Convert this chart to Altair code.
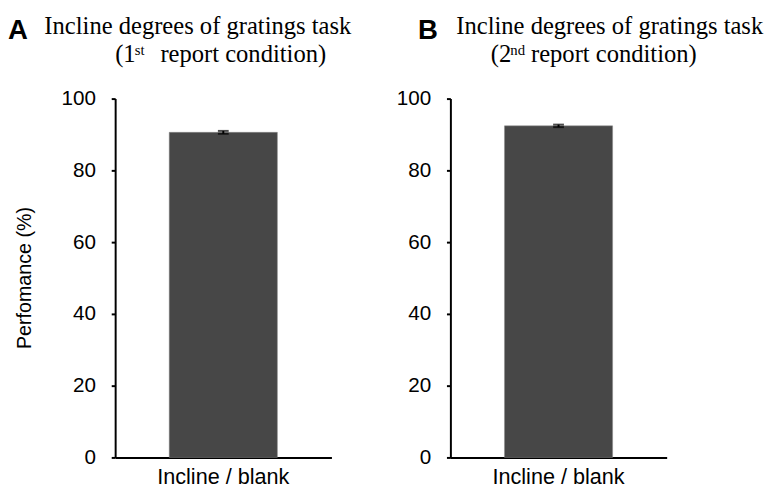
import altair as alt
import pandas as pd

# ---- data ----
conditions = ["Incline / blank"]
perf_a = [90.6]
se_a = [0.4]
perf_b = [92.4]
se_b = [0.35]
y_ticks = [0, 20, 40, 60, 80, 100]

letter_a = "A"
letter_b = "B"
title_line1 = "Incline degrees of gratings task"
sub_a = ["(1", "st", "report condition)"]
sub_b = ["(2", "nd", "report condition)"]
y_title = "Perfomance (%)"

SANS = "Liberation Sans"
SERIF = "Liberation Serif"
BAR = "#474747"
W, H = 220, 365


def panel(mean, se, letter, sub, pos, show_ytitle):
    df = pd.DataFrame({
        "condition": conditions,
        "perf": mean,
        "lo": [m - s for m, s in zip(mean, se)],
        "hi": [m + s for m, s in zip(mean, se)],
    })
    base = alt.Chart(df)
    xenc = alt.X(
        "condition:N",
        scale=alt.Scale(paddingInner=0, paddingOuter=0.5),
        axis=alt.Axis(title=None, labelAngle=0, ticks=False, domainWidth=2,
                      domainColor="black", labelFont=SANS, labelFontSize=22,
                      labelColor="black", labelPadding=10),
    )
    yaxis_kw = dict(values=y_ticks, grid=False, tickSize=4, tickWidth=2,
                    tickColor="black", domainWidth=2, domainColor="black",
                    labelFont=SANS, labelFontSize=21, labelColor="black",
                    labelPadding=16)
    if show_ytitle:
        yaxis_kw.update(title=y_title, titleFont=SANS, titleFontSize=20,
                        titleFontWeight="normal", titleColor="black",
                        titleX=-92, titleY=182, titleAngle=-90,
                        titleAlign="center", titleBaseline="middle")
    else:
        yaxis_kw.update(title=None)
    yenc = alt.Y("perf:Q", scale=alt.Scale(domain=[0, 100], nice=False),
                 axis=alt.Axis(**yaxis_kw))

    bars = base.mark_bar(color=BAR, stroke="#8a8a8a", strokeWidth=0.5).encode(x=xenc, y=yenc)
    err = base.mark_rule(color="black", strokeWidth=2).encode(
        x="condition:N", y="lo:Q", y2="hi:Q")
    cap_hi = base.mark_tick(color="black", size=11, thickness=2).encode(
        x="condition:N", y="hi:Q")
    cap_lo = base.mark_tick(color="black", size=11, thickness=2).encode(
        x="condition:N", y="lo:Q")

    def txt(text, x, y, font, size, weight="normal"):
        return base.mark_text(text=text, font=font, fontSize=size, fontWeight=weight,
                              align="left", baseline="alphabetic", color="black").encode(
            x=alt.value(x), y=alt.value(y))

    lx, l1x, p1x, p2x, p3x = pos
    layers = [
        bars, err, cap_hi, cap_lo,
        txt(letter, lx, -61, SANS, 28, "bold"),
        txt(title_line1, l1x, -66, SERIF, 25),
        txt(sub[0], p1x, -37, SERIF, 25),
        txt(sub[1], p2x, -44, SERIF, 15),
        txt(sub[2], p3x, -37, SERIF, 25),
    ]
    return alt.layer(*layers).properties(width=W, height=H)


pa = panel(perf_a, se_a, letter_a, sub_a, (-109, -72, 0, 20, 46), True)
pb = panel(perf_b, se_b, letter_b, sub_b, (-33, 6, 41, 61, 82), False)

chart = alt.hconcat(pa, pb, spacing=44).properties(
    padding={"left": 0, "top": 2, "right": 0, "bottom": 0},
    background="white",
).configure_view(strokeWidth=0)

chart.save("out.html", embed_options={"renderer": "svg", "actions": False})
